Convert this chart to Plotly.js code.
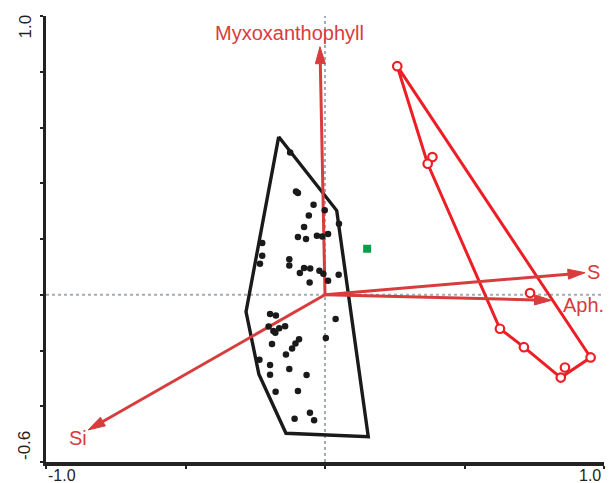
<!DOCTYPE html>
<html><head><meta charset="utf-8">
<script src="https://cdn.plot.ly/plotly-3.0.1.min.js"></script>
<style>html,body{margin:0;padding:0;background:#fff}</style>
</head><body><div id="chart" style="width:612px;height:483px"></div>
<script>
// ---- data ----
const siteX = [-0.125,-0.104,-0.097,-0.041,-0.001,0.050,-0.058,-0.075,-0.097,-0.068,-0.029,-0.010,0.011,-0.225,-0.225,-0.233,-0.128,-0.128,-0.075,-0.053,-0.090,-0.020,-0.006,0.049,0.011,-0.055,-0.197,-0.176,0.038,-0.202,-0.185,-0.178,-0.164,-0.143,-0.190,-0.093,0.003,-0.106,-0.118,-0.140,-0.235,-0.197,-0.128,-0.197,-0.066,-0.177,-0.097,-0.109,-0.054,-0.039];
const siteY = [0.510,0.370,0.365,0.323,0.303,0.255,0.284,0.243,0.207,0.200,0.212,0.209,0.218,0.186,0.140,0.111,0.127,0.105,0.096,0.094,0.078,0.086,0.075,0.072,0.050,0.044,-0.069,-0.074,-0.087,-0.114,-0.130,-0.136,-0.120,-0.113,-0.177,-0.160,-0.155,-0.175,-0.193,-0.214,-0.233,-0.252,-0.266,-0.287,-0.288,-0.348,-0.345,-0.445,-0.423,-0.450];
const blackHullX = [-0.166,0.042,0.155,-0.140,-0.237,-0.283,-0.166];
const blackHullY = [0.567,0.302,-0.509,-0.497,-0.285,-0.061,0.567];
const redX = [0.259,0.385,0.368,0.735,0.627,0.713,0.860,0.845,0.952];
const redY = [0.820,0.494,0.470,0.006,-0.122,-0.188,-0.261,-0.297,-0.225];
const redHullX = [0.259,0.368,0.627,0.713,0.845,0.952,0.259];
const redHullY = [0.820,0.470,-0.122,-0.188,-0.297,-0.225,0.820];
const greenX = [0.151];
const greenY = [0.165];
const envNames = ['Myxoxanthophyll','S','Aph.','Si'];
const envX = [-0.018,0.932,0.812,-0.849];
const envY = [0.890,0.079,-0.020,-0.485];
const xTickVals = [-1,-0.5,0,0.5,1];
const yTickVals = [-0.6,-0.4,-0.2,0,0.2,0.4,0.6,0.8,1.0];
const xLabelVals = [-1,1];
const xLabelText = ['-1.0','1.0'];
const yLabelVals = [1.0,-0.6];
const yLabelText = ['1.0','-0.6'];

// ---- layout constants ----
const W = 612, H = 483;
const M = {l:46, r:8, t:16, b:21};
const xr = [-1,1], yr = [-0.6,1.0];
const kx = (W-M.l-M.r)/(xr[1]-xr[0]);
const ky = (H-M.t-M.b)/(yr[1]-yr[0]);
const ARROW = '#d83c3c', RED = '#ec1f26';
const FONT = 'Liberation Sans, Arial, sans-serif';

const traces = [];
traces.push({x:blackHullX, y:blackHullY, mode:'lines', line:{color:'#1a1a1a', width:3.4}, hoverinfo:'skip', showlegend:false});
traces.push({x:redHullX, y:redHullY, mode:'lines', line:{color:RED, width:3}, hoverinfo:'skip', showlegend:false});

// arrows: shaft + head computed from tips
const headL = 17, headW = 5;
envX.forEach((tx,i)=>{
  const ty = envY[i];
  const px = tx*kx, py = ty*ky;
  const len = Math.hypot(px,py);
  const ux = px/len, uy = py/len;
  const bx = px-ux*headL, by = py-uy*headL;
  const nx = -uy, ny = ux;
  traces.push({x:[0,bx/kx], y:[0,by/ky], mode:'lines', line:{color:ARROW, width:3}, hoverinfo:'skip', showlegend:false});
  traces.push({x:[tx,(bx+nx*headW)/kx,(bx-nx*headW)/kx,tx], y:[ty,(by+ny*headW)/ky,(by-ny*headW)/ky,ty],
    mode:'lines', fill:'toself', fillcolor:ARROW, line:{color:ARROW, width:1}, hoverinfo:'skip', showlegend:false});
});

traces.push({x:siteX, y:siteY, mode:'markers', marker:{color:'#1a1a1a', size:6.5}, hoverinfo:'skip', showlegend:false});
traces.push({x:redX, y:redY, mode:'markers', marker:{color:'#ffffff', size:8.5, line:{color:RED, width:2.2}}, hoverinfo:'skip', showlegend:false});
traces.push({x:greenX, y:greenY, mode:'markers', marker:{color:'#0a9e4a', symbol:'square', size:8}, hoverinfo:'skip', showlegend:false});

// labels of vectors (offsets in px)
const labelStyle = [
  {xanchor:'center', yanchor:'middle', xshift:-30, yshift:14},
  {xanchor:'left', yanchor:'middle', xshift:0, yshift:1},
  {xanchor:'left', yanchor:'middle', xshift:9, yshift:-5},
  {xanchor:'center', yanchor:'middle', xshift:-10, yshift:-8}
];
const annotations = envNames.map((n,i)=>Object.assign({
  x:envX[i], y:envY[i], xref:'x', yref:'y', text:n, showarrow:false,
  font:{family:FONT, size:20, color:ARROW}
}, labelStyle[i]));

xLabelVals.forEach((v,i)=>annotations.push({
  x:v, y:0, xref:'x', yref:'paper', text:xLabelText[i], showarrow:false,
  xanchor: i===0?'left':'right', yanchor:'top', yshift:-3, xshift: i===0?0:-1,
  font:{family:FONT, size:16, color:'#222'}
}));
yLabelVals.forEach((v,i)=>annotations.push({
  x:0, y:v, xref:'paper', yref:'y', text:yLabelText[i], showarrow:false, textangle:-90,
  xanchor:'right', yanchor: i===0?'top':'bottom', xshift:-10, yshift: i===0?3:0,
  font:{family:FONT, size:17, color:'#222'}
}));

const layout = {
  width:W, height:H, margin:M, paper_bgcolor:'#fff', plot_bgcolor:'#fff',
  showlegend:false,
  xaxis:{range:xr, showgrid:false, zeroline:false, showline:true, linewidth:3.5, linecolor:'#222',
    ticks:'outside', ticklen:3, tickwidth:2, tickcolor:'#222', tickvals:xTickVals, showticklabels:false, fixedrange:true},
  yaxis:{range:yr, showgrid:false, zeroline:false, showline:true, linewidth:3.5, linecolor:'#222',
    ticks:'outside', ticklen:3, tickwidth:2, tickcolor:'#222', tickvals:yTickVals, showticklabels:false, fixedrange:true},
  shapes:[
    {type:'line', xref:'x', yref:'paper', x0:0, x1:0, y0:0, y1:1, layer:'below', line:{color:'#a3abb3', width:2, dash:'dot'}},
    {type:'line', xref:'paper', yref:'y', x0:0, x1:1, y0:0, y1:0, layer:'below', line:{color:'#a3abb3', width:2, dash:'dot'}}
  ],
  annotations:annotations
};
Plotly.newPlot('chart', traces, layout, {displayModeBar:false, staticPlot:true});
</script></body></html>
